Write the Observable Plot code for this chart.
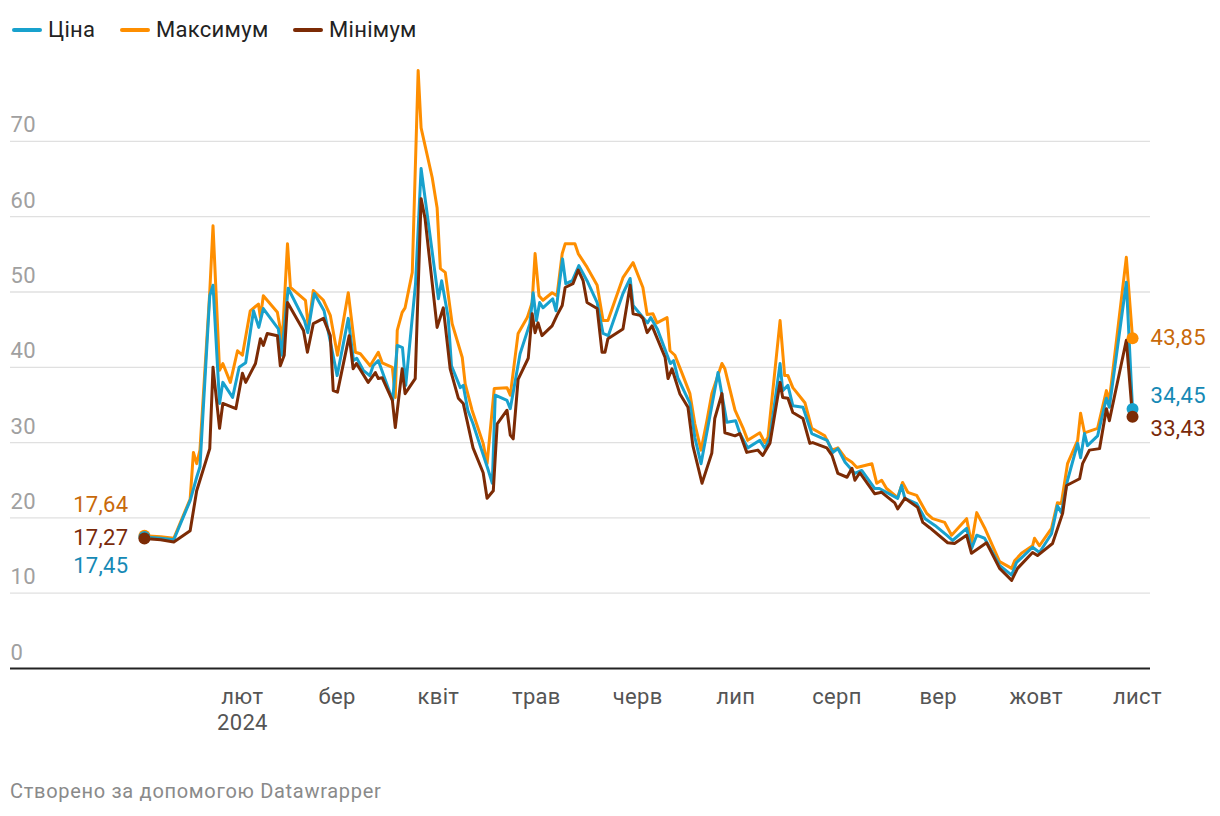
<!DOCTYPE html>
<html>
<head>
<meta charset="utf-8">
<script src="https://cdn.jsdelivr.net/npm/d3@7"></script>
<script src="https://cdn.jsdelivr.net/npm/@observablehq/plot@0.6"></script>
<style>
  html, body { margin: 0; padding: 0; background: #fff; font-family: Roboto, "Noto Sans", sans-serif; }
  #legend { height: 50px; position: relative; font-size: 22px; color: #222; letter-spacing: 0.3px; }
  .item { position: absolute; top: 17px; display: flex; align-items: center; white-space: nowrap; }
  .swatch { width: 30px; height: 4px; border-radius: 2px; margin-right: 6px; }
  #chart { height: 700px; }
  #caption { padding-left: 10px; margin-top: 29px; font-size: 20px; color: #8a8a8a; letter-spacing: 0.7px; }
</style>
</head>
<body>
<div id="legend"></div>
<div id="chart"></div>
<div id="caption">Створено за допомогою Datawrapper</div>
<script>
// day of year 2024 (0 = 1 January)
const seriesNames = ["Ціна", "Максимум", "Мінімум"];
const seriesColors = ["#18a1cd", "#fe8e00", "#7c2b05"];
const labelColors = ["#1589b5", "#c8690a", "#7a2a0a"];

const priceDay = [1,6,10,15,17,18,21,22,24,25,28,30,32,34.4,36,37.4,42,43,45,50,51,53,56,60,63.4,65,66,68,70,71,72.6,74,77,78.4,80,81,84,85.7,87,91,92,94,95,97.7,98.6,100,101.6,104,106,107.5,108.4,112,113,116,119,120,121,122,123,126,127,129,130,132,134,136.5,139.6,141.4,143,147.5,149.7,150.6,155,156,158,162,163,164.3,168,169.5,171.4,176.6,178,179.3,182,183.3,185.7,189.4,191,192.5,195.6,196.4,198,199.5,202.6,205.3,210,211.8,213.3,215.5,218.5,220.6,224.6,226,231.6,232.8,233.8,237.4,240,243,246.6,248.4,252.7,254.2,255.8,258.2,262.8,266.5,268,269.5,272.9,275,278.7,280.5,281.7,283.6,286.7,287.6,288.8,289.7,292.8,295.5,296.4,301.6,303.5];
const priceVal = [17.45,17.3,17.1,22.3,25.4,26.8,49.5,50.9,35.2,38,36,40,40.6,47.5,45.3,47.8,45.1,41.6,50.5,46.2,44.6,49.8,47.5,38.9,46.5,40.9,41.2,39.6,38.9,40.2,40.9,39.2,35.6,42.9,42.6,37.6,51.1,66.4,62.2,49.1,51.5,46.6,40.2,37.3,37.6,34.3,32.5,29.3,26.7,24.6,36.3,35.6,34.5,41.8,45.8,49.9,46.2,48.6,47.9,49.1,47.5,54.4,51.1,51.5,53.5,51.5,48.6,44.5,44.2,49.8,51.8,48.2,45.9,46.6,45.1,40.5,40.9,38.6,35.2,30.7,27.2,39.3,35.9,32.7,32.9,31.2,29.3,30.3,29.2,30.7,40.5,36.9,37.6,34.9,34.7,31.2,30.3,28.7,29.2,27.4,25.9,26.3,23.9,23.9,22.6,24.3,22.6,21.9,19.9,19,17.7,17,18.6,15.9,17.7,17.3,13.7,12.4,14.1,14.7,16.1,15.4,17.9,21.6,20.7,25,29.9,28,31.2,29.6,30.9,35.9,34.7,51.3,34.45];

const maxDay = [1,6,10,15,16,17,18,21,22,24,25,27.3,29.5,31,33.4,35.9,36.5,37.4,41.7,43.2,44.8,45.7,50.3,51.2,52.7,55.8,57.9,60.1,63.4,65.6,67.1,70.1,72.6,73.8,76.9,77.8,78.4,79.9,80.8,83,84.8,85.7,89.1,90.6,91.6,93.1,95.2,98.3,99.2,101.3,104.7,105.9,108.1,112,113,115.4,118.2,119.7,120.6,121.8,123,125.8,127.3,128.9,129.8,132.8,133.8,136.5,139.6,141.4,142.9,147.5,150.6,153.6,154.9,156.7,157.9,161,161.9,163.4,165.6,168,169.5,171.4,173.2,174.7,177.8,178.7,181.8,184.2,185.7,189.4,190.9,191.9,195.6,197,198,199.5,203.2,205.3,209.3,211.5,213.3,215.5,217.6,219.1,223.7,225.2,226.7,228.2,231.6,233.1,234.7,237.4,240.5,242.3,246,248.1,252.7,254.2,255.8,258.2,262.8,266.5,267.4,269.5,272.9,273.5,275,278.7,280.5,281.7,283.6,286.7,287.6,288.8,292.8,295.5,296.4,301.6,303.5];
const maxVal = [17.64,17.5,17.3,22.5,28.7,27.2,29,50,58.8,39.6,40.5,38,42.2,41.6,47.5,48.4,46.6,49.5,47.3,43.6,56.4,50.6,48.9,45.3,50.2,48.9,46.9,41.6,49.9,42,41.8,40.2,42,40.6,40,36,44.9,47.3,47.9,52.6,79.4,71.8,65.2,61.2,53.1,52.6,45.8,41.3,37.8,34.3,29.9,27.2,37.2,37.3,36.3,44.5,46.6,48.6,55.1,49.5,48.9,49.9,49.5,55.1,56.4,56.4,55.1,53.3,50.9,46.2,46.2,51.9,53.9,50.6,47,47.1,45.9,46.6,42.2,41.6,39.2,36.5,32.5,29,32.9,36.5,40.5,39.8,34.3,32,30.3,31.3,30,30.7,46.2,38.9,38.9,37.3,35.3,31.9,30.9,29,29.3,28,27.4,26.7,27.2,24.6,25,23.9,22.7,24.7,23.4,23,20.6,19.9,19.4,17.7,19.9,16.6,20.7,18.7,14.2,13.3,14.3,15.3,16.3,17.3,16.3,18.6,22,21.9,27.2,30.3,33.9,31.3,31.9,36.9,35.6,54.6,43.85];

const minDay = [1,6,10,15,17,21,22,24,25,29,31,32,35,36.5,37.4,38.6,41.7,42.6,43.8,44.8,49.7,50.9,52.7,55.8,57.9,58.8,60.1,63.7,64.9,65.9,69.5,71.7,72.6,73.8,76.9,77.8,79.9,80.8,83.9,85.7,86.9,90.6,92.5,94.6,97.1,98.6,101.6,104.7,105.9,107.8,109,112,113,113.9,115.4,118.5,119.7,120.6,121.5,122.7,125.8,127.3,128.9,129.8,132.2,133.8,135.3,136.5,139.6,141.1,142,142.9,147.5,149.7,150.6,152.7,153.6,154.9,156.4,160.4,161.3,162.5,164.9,167.4,168.9,171.7,174.7,175.6,177.8,178.7,181.8,183.3,185.4,188.8,190.3,192.5,195.6,196.4,198,199.5,202.6,204.7,205.6,209.9,211.5,213.3,216.1,217.6,218.5,220,224.6,226.7,230.7,231.6,233.8,237.7,239.3,241.4,246.9,249,252.7,254.2,258.8,262.8,266.5,268.3,272.9,274.4,279,282.1,283.3,287.3,288.2,290.3,293.4,295.5,296.4,301.6,303.5];
const minVal = [17.27,17.1,16.8,18.3,23.6,29.2,40,31.9,35.2,34.5,39.2,38,40.5,43.8,42.9,44.5,44.2,40.2,41.6,48.6,44.9,42,45.8,46.5,44.2,36.9,36.7,44.2,39.8,40.5,38,39.3,38.5,38.6,35.6,32,39.8,36.5,38.5,62.4,59.8,45.3,47.9,39.8,35.9,35.2,29.3,26,22.6,23.6,32.5,34.3,31,30.5,38.4,41.2,47.1,44.6,45.9,44.2,45.5,46.9,48.2,50.6,51.1,52.9,51.5,48.6,47.8,42,42,43.8,45.1,50.9,47.1,46.9,46.5,44.6,45.5,41.3,38.5,39.8,36.5,34.7,29.6,24.6,28.6,33.2,36.5,31.3,30.9,31.2,28.7,29,28.3,29.9,38,36,35.9,34,33.2,29.9,30,29.3,28.3,25.9,25.4,26.6,25,26,23.2,23.4,22,21.2,22.6,21.4,19.4,18.7,16.7,16.6,17.7,15.3,16.7,13.3,11.7,13.3,15.4,15,16.6,20.6,24.3,25.2,27.2,29,29.2,34.5,32.9,43.6,33.43];

const yTicks = [0, 10, 20, 30, 40, 50, 60, 70];
const monthTicks = ["2024-02-01","2024-03-01","2024-04-01","2024-05-01","2024-06-01","2024-07-01","2024-08-01","2024-09-01","2024-10-01","2024-11-01"];
const monthLabels = ["лют\n2024","бер","квіт","трав","черв","лип","серп","вер","жовт","лист"];
const xDomain = ["2023-11-22", "2024-11-05"];

const base = Date.UTC(2024, 0, 1);
const toDate = d => new Date(base + d * 864e5);
function build(days, vals, name) {
  return days.map((d, i) => ({date: toDate(d), value: vals[i], series: name}));
}
const price = build(priceDay, priceVal, seriesNames[0]);
const maxS = build(maxDay, maxVal, seriesNames[1]);
const minS = build(minDay, minVal, seriesNames[2]);
const all = [maxS, price, minS];
const colorOf = {[seriesNames[0]]: seriesColors[0], [seriesNames[1]]: seriesColors[1], [seriesNames[2]]: seriesColors[2]};
const labelOf = {[seriesNames[0]]: labelColors[0], [seriesNames[1]]: labelColors[1], [seriesNames[2]]: labelColors[2]};
const fmt = v => v.toFixed(2).replace(".", ",");

const firsts = all.map(s => s[0]);
const lasts = all.map(s => s[s.length - 1]);
const startDy = {[seriesNames[1]]: -31, [seriesNames[2]]: -1, [seriesNames[0]]: 29};
const endDy = {[seriesNames[1]]: 0, [seriesNames[0]]: -13, [seriesNames[2]]: 12};

// legend
const legend = document.getElementById("legend");
const legendX = [12, 120, 293];
seriesNames.forEach((n, i) => {
  const it = document.createElement("div");
  it.className = "item";
  it.style.left = legendX[i] + "px";
  it.innerHTML = `<div class="swatch" style="background:${seriesColors[i]}"></div><span>${n}</span>`;
  legend.appendChild(it);
});

const marks = [
  Plot.ruleY(yTicks.filter(d => d > 0), {stroke: "#e0e0e0", strokeWidth: 1.3}),
  Plot.axisY(yTicks, {anchor: "left", tickSize: 0, tickPadding: 0, textAnchor: "start", dy: -16, fontSize: 22, fill: "#a0a0a0", label: null, tickFormat: d => String(d)}),
  Plot.axisX(monthTicks.map(d => new Date(d)), {anchor: "bottom", tickSize: 0, tickPadding: 16, fontSize: 22, fill: "#555", lineHeight: 1.22, label: null, tickFormat: (d, i) => monthLabels[i]}),
  Plot.ruleY([0], {stroke: "#222", strokeWidth: 2}),
];
all.forEach(s => {
  marks.push(Plot.line(s, {x: "date", y: "value", stroke: colorOf[s[0].series], strokeWidth: 3, strokeLinejoin: "round", strokeLinecap: "round"}));
});
marks.push(
  Plot.dot(firsts, {x: "date", y: "value", r: 6, fill: d => colorOf[d.series]}),
  Plot.dot(lasts, {x: "date", y: "value", r: 6, fill: d => colorOf[d.series]}),
);
firsts.forEach(d => {
  marks.push(Plot.text([d], {x: "date", y: "value", text: v => fmt(v.value), fill: labelOf[d.series], textAnchor: "end", dx: -16, dy: startDy[d.series], fontSize: 22}));
});
lasts.forEach(d => {
  marks.push(Plot.text([d], {x: "date", y: "value", text: v => fmt(v.value), fill: labelOf[d.series], textAnchor: "start", dx: 18, dy: endDy[d.series], fontSize: 22}));
});

const chart = Plot.plot({
  width: 1220,
  height: 700,
  marginLeft: 10,
  marginRight: 70,
  marginTop: 15.6,
  marginBottom: 82,
  style: {fontFamily: "Roboto, sans-serif", fontSize: "22px", background: "#fff", overflow: "visible", letterSpacing: "0.3px"},
  x: {type: "utc", domain: xDomain.map(d => new Date(d)), axis: null},
  y: {domain: [0, 80], axis: null},
  marks
});
document.getElementById("chart").appendChild(chart);
</script>
</body>
</html>
